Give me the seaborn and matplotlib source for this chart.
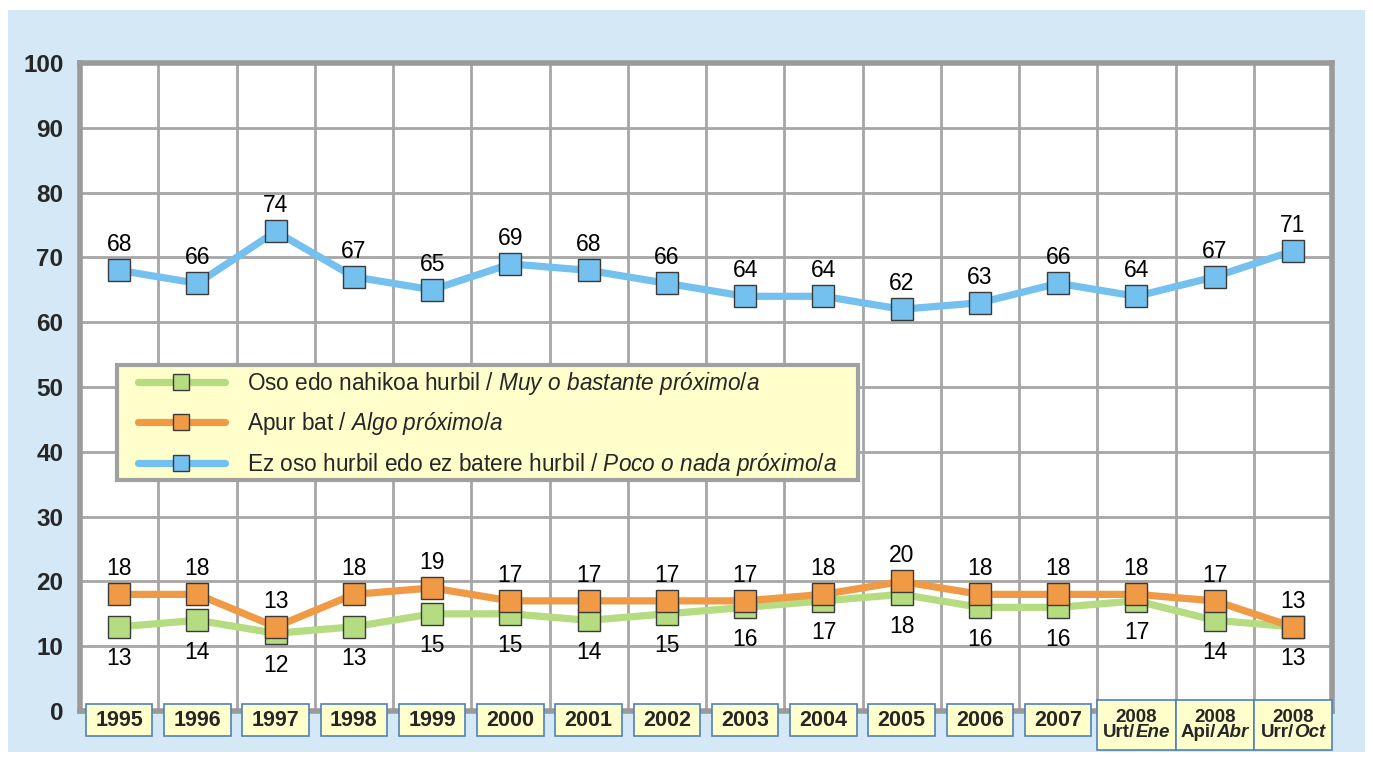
import matplotlib
matplotlib.use("Agg")
import matplotlib.pyplot as plt
import seaborn as sns
import pandas as pd
from matplotlib.patches import Rectangle
from matplotlib.offsetbox import TextArea, HPacker, VPacker, AnnotationBbox

# ---------------- data ----------------
years_top = ["1995", "1996", "1997", "1998", "1999", "2000", "2001", "2002", "2003",
             "2004", "2005", "2006", "2007", "2008", "2008", "2008"]
period_eu = [None] * 13 + ["Urt/", "Api/", "Urr/"]
period_es = [None] * 13 + ["Ene", "Abr", "Oct"]

muy_proximo = [13, 14, 12, 13, 15, 15, 14, 15, 16, 17, 18, 16, 16, 17, 14, 13]
algo_proximo = [18, 18, 13, 18, 19, 17, 17, 17, 17, 18, 20, 18, 18, 18, 17, 13]
poco_nada = [68, 66, 74, 67, 65, 69, 68, 66, 64, 64, 62, 63, 66, 64, 67, 71]

series_names = [
    r"Oso edo nahikoa hurbil / $\mathit{Muy\ o\ bastante\ próximo/a}$",
    r"Apur bat / $\mathit{Algo\ próximo/a}$",
    r"Ez oso hurbil edo ez batere hurbil / $\mathit{Poco\ o\ nada\ próximo/a}$",
]
series_values = [muy_proximo, algo_proximo, poco_nada]
series_colors = ["#B5DC80", "#F09A46", "#74C0EF"]
label_offsets = [-23, 18.5, 18.5]
yticks = [0, 10, 20, 30, 40, 50, 60, 70, 80, 90, 100]

# ---------------- style ----------------
sns.set_style("white")
plt.rcParams["font.family"] = ["Liberation Sans", "DejaVu Sans"]
plt.rcParams["mathtext.fontset"] = "custom"
plt.rcParams["mathtext.rm"] = "Liberation Sans"
plt.rcParams["mathtext.it"] = "Liberation Sans:italic"
plt.rcParams["mathtext.bf"] = "Liberation Sans:bold"

fig = plt.figure(figsize=(13.73, 7.59), dpi=100)
fig.patch.set_facecolor("white")
fig.patches.append(Rectangle((0.0058, 0.0092), 0.9883, 0.9776, transform=fig.transFigure,
                             facecolor="#D5E8F5", edgecolor="none", zorder=-10))

ax = fig.add_axes([0.0583, 0.0632, 0.9119, 0.8538])
ax.set_facecolor("white")

for name, vals, col, off in zip(series_names, series_values, series_colors, label_offsets):
    df = pd.DataFrame({"x": range(len(vals)), "y": vals})
    sns.lineplot(data=df, x="x", y="y", ax=ax, color=col, linewidth=5.2, marker="s",
                 markersize=15.5, markerfacecolor=col, markeredgecolor="#3A3A3A",
                 markeredgewidth=1.0, label=name, zorder=3)
    for i, v in enumerate(vals):
        ax.annotate(str(v), (i, v), xytext=(0, off), textcoords="offset points",
                    ha="center", va="center", fontsize=16.5, color="black", zorder=4)

n = len(poco_nada)
ax.set_xlim(-0.5, n - 0.5)
ax.set_ylim(0, 100)
ax.set_yticks(yticks)
ax.set_yticklabels([str(t) for t in yticks], fontsize=17.5, fontweight="bold")
ax.tick_params(axis="y", length=0, pad=12)
ax.set_xticks([i + 0.5 for i in range(n - 1)])
ax.tick_params(axis="x", length=0, labelbottom=False)
ax.set_xlabel("")
ax.set_ylabel("")
ax.grid(True, color="#A6A6A6", linewidth=2)
ax.set_axisbelow(True)
for side in ["left", "bottom", "right", "top"]:
    ax.spines[side].set_visible(True)
    ax.spines[side].set_color("#9A9A9A")
    ax.spines[side].set_linewidth(4)

# category label boxes
xt = ax.get_xaxis_transform()
for i in range(n):
    if period_eu[i] is None:
        w, y0, y1, yc = 0.85, -0.0386, 0.0108, -0.0139
        box = TextArea(years_top[i], textprops=dict(fontsize=15.5, fontweight="bold"))
    else:
        w, y0, y1, yc = 1.0, -0.0602, 0.017, -0.0216
        top = TextArea(years_top[i], textprops=dict(fontsize=13.5, fontweight="bold"))
        bot = HPacker(children=[
            TextArea(period_eu[i], textprops=dict(fontsize=13.5, fontweight="bold")),
            TextArea(period_es[i], textprops=dict(fontsize=13.5, fontweight="bold",
                                                  fontstyle="italic")),
        ], align="baseline", pad=0, sep=0)
        box = VPacker(children=[top, bot], align="center", pad=0, sep=-1)
    ax.add_patch(Rectangle((i - w / 2, y0), w, y1 - y0, transform=xt, clip_on=False,
                           facecolor="#FFFFCC", edgecolor="#4F81BD", linewidth=1.2, zorder=6))
    ab = AnnotationBbox(box, (i, yc), xycoords=xt, frameon=False, box_alignment=(0.5, 0.5),
                        annotation_clip=False, zorder=7)
    ax.add_artist(ab)

# legend: framed panel + legend entries
ax.add_patch(Rectangle((0.0296, 0.356), 0.5915, 0.1775, transform=ax.transAxes,
                       facecolor="#FFFFCC", edgecolor="#A0A0A0", linewidth=3, zorder=5))
leg = ax.legend(loc="upper left", bbox_to_anchor=(0.046, 0.527), borderaxespad=0,
                fontsize=16.3, frameon=False, handlelength=3.85, handletextpad=1.0,
                labelspacing=0.6, borderpad=0)
for h in leg.legend_handles:
    h.set_markersize(12)
leg.set_zorder(6)

fig.savefig("out.png", dpi=100, facecolor=fig.get_facecolor())
